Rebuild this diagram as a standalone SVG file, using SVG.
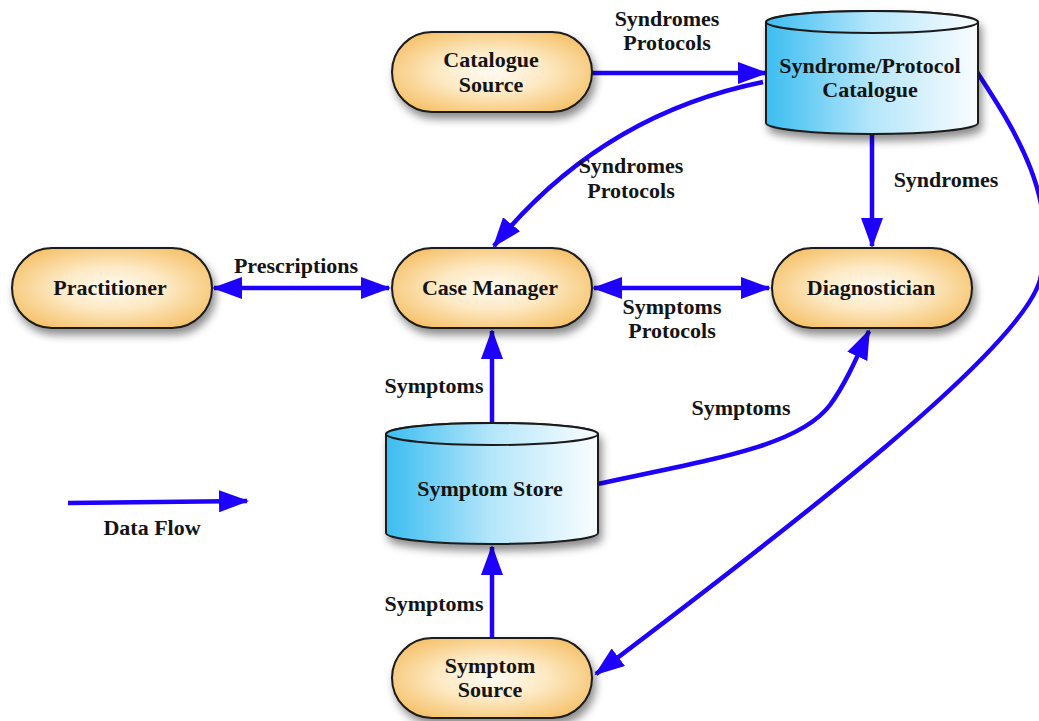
<svg xmlns="http://www.w3.org/2000/svg" width="1039" height="721" viewBox="0 0 1039 721">
<defs>
<radialGradient id="pill" cx="50%" cy="50%" r="60%">
<stop offset="0" stop-color="#fffbf3"/>
<stop offset="0.45" stop-color="#fde9c3"/>
<stop offset="1" stop-color="#f5c067"/>
</radialGradient>
<linearGradient id="cyl" x1="0" y1="0" x2="1" y2="0">
<stop offset="0" stop-color="#3bbdf1"/>
<stop offset="0.5" stop-color="#b5e6fa"/>
<stop offset="1" stop-color="#fafdff"/>
</linearGradient>
<filter id="shadow" x="-20%" y="-20%" width="140%" height="150%">
<feDropShadow dx="3" dy="6" stdDeviation="4" flood-color="#000" flood-opacity="0.45"/>
</filter>
<marker id="ah" viewBox="0 0 30 22" refX="28" refY="11" markerWidth="30" markerHeight="22" markerUnits="userSpaceOnUse" orient="auto-start-reverse">
<path d="M0,0 L30,11 L0,22 Z" fill="#1e00ff"/>
</marker>
</defs>
<style>
.node{fill:url(#pill);stroke:#1a1a1a;stroke-width:2;filter:url(#shadow)}
.cyl{fill:url(#cyl);stroke:#1a1a1a;stroke-width:2}
.t{font-family:"Liberation Serif","Times New Roman",serif;font-weight:bold;font-size:22px;fill:#141414;text-anchor:middle}
.e{fill:none;stroke:#1e00ff;stroke-width:4.5}
.one{marker-end:url(#ah)}
.two{marker-start:url(#ah);marker-end:url(#ah)}
</style>
<rect width="1039" height="721" fill="#ffffff"/>

<g id="connectors">
<path class="e one" d="M592,73 L766,73"/>
<path class="e one" d="M763,82 Q600,115 494,246"/>
<path class="e one" d="M872,134 L872,246"/>
<path class="e one" d="M977,72 C1015,130 1060,200 1040,280 C1020,350 800,520 596,674"/>
<path class="e two" d="M214,288 L389,288"/>
<path class="e two" d="M594,288 L769,288"/>
<path class="e one" d="M492,423 L492,331"/>
<path class="e one" d="M597,484 C720,458 800,445 830,405 C845,385 858,355 869,331"/>
<path class="e one" d="M492,638 L492,547"/>
<path class="e one" d="M68,503 L247,501"/>
</g>

<g id="labels">
<text class="t" x="667" y="26">Syndromes</text>
<text class="t" x="667" y="50">Protocols</text>
<text class="t" x="631" y="173">Syndromes</text>
<text class="t" x="631" y="198">Protocols</text>
<text class="t" x="946" y="187">Syndromes</text>
<text class="t" x="296" y="273">Prescriptions</text>
<text class="t" x="672" y="314">Symptoms</text>
<text class="t" x="672" y="338">Protocols</text>
<text class="t" x="434" y="393">Symptoms</text>
<text class="t" x="741" y="415">Symptoms</text>
<text class="t" x="434" y="611">Symptoms</text>
<text class="t" x="152" y="535">Data Flow</text>
</g>

<g id="catalogue-source">
<rect class="node" x="392" y="32" width="200" height="80" rx="40" ry="40"/>
<text class="t" x="491" y="67">Catalogue</text>
<text class="t" x="491" y="92">Source</text>
</g>

<g id="syndrome-catalogue">
<g filter="url(#shadow)">
<path class="cyl" d="M766,22 A106,11 0 0 1 978,22 L978,123 A106,11 0 0 1 766,123 Z"/>
</g>
<ellipse class="cyl" cx="872" cy="22" rx="106" ry="11"/>
<text class="t" x="870" y="73">Syndrome/Protocol</text>
<text class="t" x="870" y="97">Catalogue</text>
</g>

<g id="practitioner">
<rect class="node" x="12" y="248" width="200" height="80" rx="40" ry="40"/>
<text class="t" x="110" y="295">Practitioner</text>
</g>

<g id="case-manager">
<rect class="node" x="392" y="248" width="200" height="80" rx="40" ry="40"/>
<text class="t" x="490" y="295">Case Manager</text>
</g>

<g id="diagnostician">
<rect class="node" x="772" y="248" width="200" height="80" rx="40" ry="40"/>
<text class="t" x="871" y="295">Diagnostician</text>
</g>

<g id="symptom-store">
<g filter="url(#shadow)">
<path class="cyl" d="M386,434 A106,11 0 0 1 598,434 L598,533 A106,11 0 0 1 386,533 Z"/>
</g>
<ellipse class="cyl" cx="492" cy="434" rx="106" ry="11"/>
<text class="t" x="490" y="496">Symptom Store</text>
</g>

<g id="symptom-source">
<rect class="node" x="392" y="638" width="200" height="80" rx="40" ry="40"/>
<text class="t" x="490" y="673">Symptom</text>
<text class="t" x="490" y="697">Source</text>
</g>
</svg>
